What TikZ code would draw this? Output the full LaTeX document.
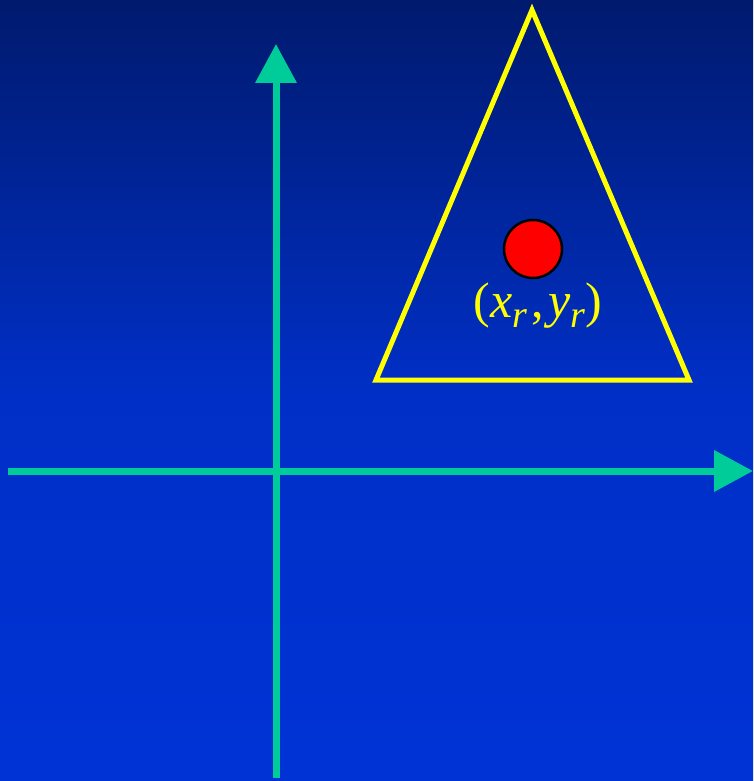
\documentclass[tikz,border=0pt]{standalone}
\usepackage{fontspec}
\setmainfont{Liberation Serif}
\usetikzlibrary{arrows.meta}
\definecolor{navytop}{HTML}{001A6E}
\definecolor{bluebot}{HTML}{0033D6}
\definecolor{axisgreen}{HTML}{00CC99}
\definecolor{markyellow}{HTML}{FFFF00}
\newcommand{\subr}{\raisebox{-0.4ex}{\fontsize{38}{38}\selectfont\textit{r}}}
\begin{document}
\begin{tikzpicture}[x=1pt,y=-1pt,
  axis/.style={draw=axisgreen,line width=7pt,-{Triangle[length=39pt,width=40pt]}},
  robot/.style={draw=markyellow,line width=5pt},
  centre/.style={circle,draw=black,line width=2.5pt,fill=red,minimum size=58pt,inner sep=0pt}]
  \shade[top color=navytop,bottom color=bluebot,middle color=bluebot!85!navytop]
    (0,0) rectangle (753,781);
  \useasboundingbox (0,0) rectangle (753,781);
  % axes
  \coordinate (ybot) at (276,778);
  \coordinate (ytop) at (276,44);
  \coordinate (xleft) at (8,471);
  \coordinate (xright) at (753,471);
  \draw[axis] (ybot) -- (ytop);
  \draw[axis] (xleft) -- (xright);
  % robot triangle
  \coordinate (apex) at (532,10);
  \coordinate (bl) at (376,380);
  \coordinate (br) at (689,380);
  \draw[robot] (apex) -- (bl) -- (br) -- cycle;
  \node[centre] (ref) at (533,249) {};
  \node[text=markyellow,font=\fontsize{50}{52}\selectfont,inner sep=0pt]
    (lbl) at (538,306)
    {(\textit{x}\subr\kern4pt,\kern5pt\textit{y}\subr)};
\end{tikzpicture}
\end{document}
